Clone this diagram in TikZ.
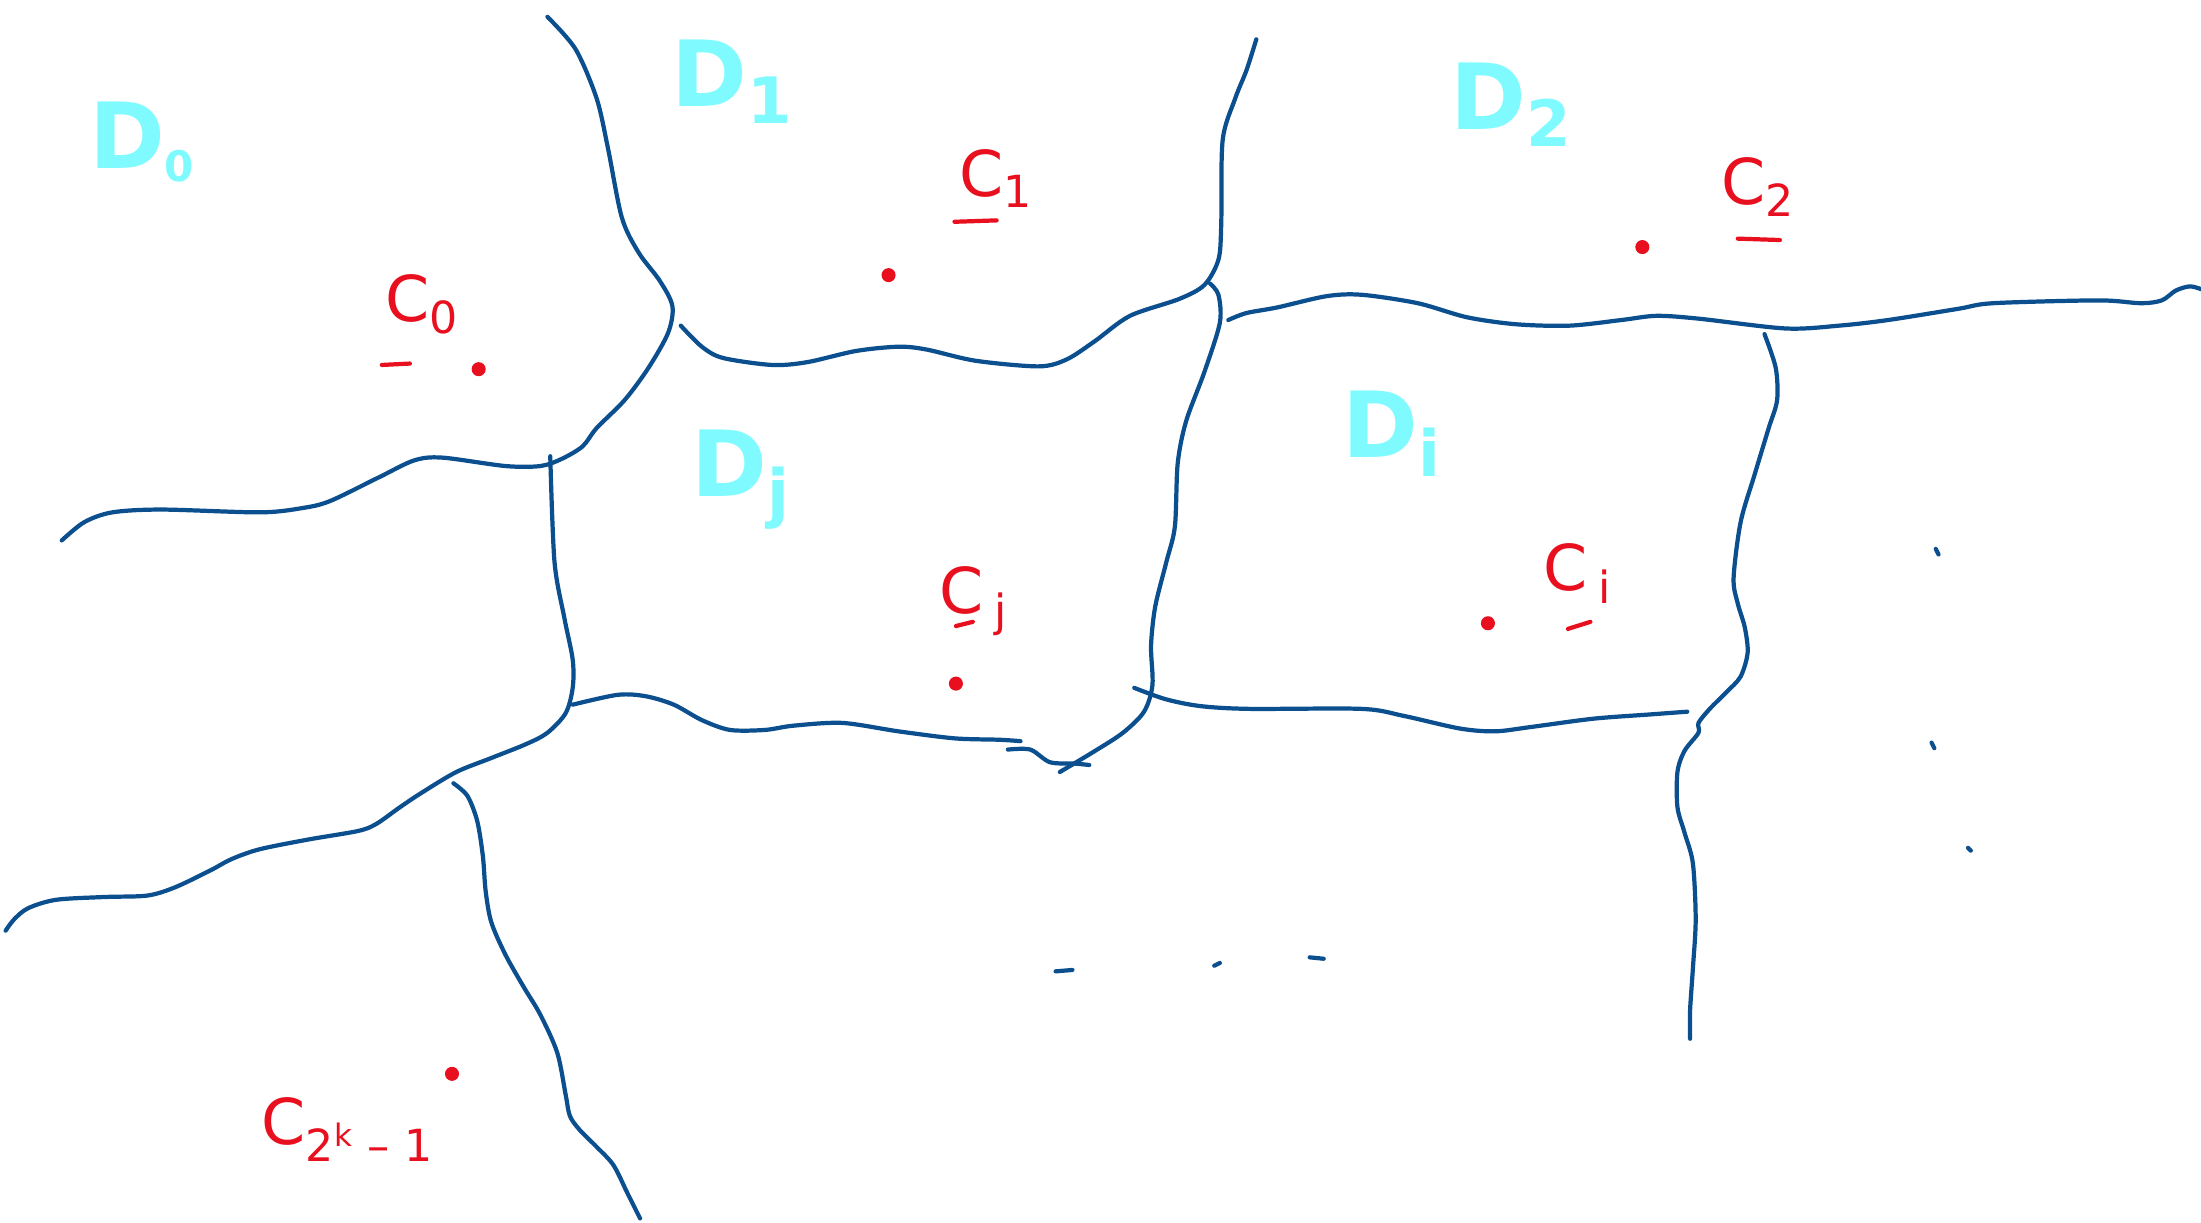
\documentclass[tikz,border=0pt]{standalone}
\usepackage{fontspec}
\setmainfont{DejaVu Sans}
\usepackage{tikz}
\usetikzlibrary{arrows.meta,calc,positioning}

\definecolor{cellblue}{HTML}{0B4F8F}
\definecolor{seedred}{HTML}{E8101F}
\definecolor{regioncyan}{HTML}{7FFBFF}

\tikzset{
  border/.style={cellblue, line width=1.2pt, line cap=round, line join=round},
  region/.style={regioncyan, anchor=base west, inner sep=0pt, font=\fontsize{26}{28}\selectfont\bfseries},
  seed/.style={seedred, anchor=base west, inner sep=0pt, font=\fontsize{18}{20}\selectfont},
  bar/.style={seedred, line width=1.2pt, line cap=round},
  dot/.style={seedred, fill, inner sep=0pt, minimum size=4pt, circle},
  speck/.style={cellblue, line width=1.2pt, line cap=round}
}

\begin{document}
\begin{tikzpicture}[x=0.014037cm, y=-0.014037cm]
\useasboundingbox (0,0) rectangle (1568,871);

% Bordi delle celle
\draw[border] plot[smooth, tension=0.5] coordinates {(390,12) (410,35) (425,70) (433,105) (443,155) (455,180) (470,200) (479,218) (476,237) (462,262) (445,285) (425,305) (415,318) (400,327) (385,332) (360,332) (315,326) (295,328) (270,340) (235,357) (215,362) (185,365) (115,363) (80,365) (60,372) (44,385)};
\draw[border] plot[smooth, tension=0.5] coordinates {(485,232) (500,247) (515,255) (550,260) (575,258) (610,250) (640,247) (660,249) (695,257) (740,261) (760,256) (780,243) (805,225) (840,213) (858,203) (868,185) (870,160) (871,100) (880,70) (888,50) (895,28)};
\draw[border] plot[smooth, tension=0.5] coordinates {(862,202) (868,210) (869,230) (858,265) (845,300) (839,330) (837,375) (831,400) (823,432) (820,460) (821,488) (815,507) (800,522) (780,535) (755,550)};
\draw[border] plot[smooth, tension=0.5] coordinates {(408,502) (440,495) (460,496) (480,502) (500,513) (520,520) (545,520) (565,517) (600,515) (640,521) (680,526) (712,527) (727,528)};
\draw[border] plot[smooth, tension=0.5] coordinates {(718,534) (734,534) (748,543) (766,544) (776,545)};
\draw[border] plot[smooth, tension=0.5] coordinates {(392,325) (395,400) (402,440) (408,470) (408,490) (403,508) (390,522) (375,530) (350,540) (325,550) (300,565) (285,575) (268,587) (255,592) (220,598) (185,605) (165,612) (150,620) (125,632) (105,638) (75,639) (40,641) (20,647) (10,655) (4,663)};
\draw[border] plot[smooth, tension=0.5] coordinates {(323,558) (333,567) (340,585) (344,610) (346,635) (350,657) (360,680) (373,703) (385,723) (397,750) (403,780) (406,795) (413,805) (425,817) (437,830) (447,850) (456,868)};
\draw[border] plot[smooth, tension=0.5] coordinates {(808,490) (830,498) (855,503) (890,505) (970,505) (1000,510) (1040,519) (1065,521) (1090,518) (1135,512) (1175,509) (1202,507)};
\draw[border] plot[smooth, tension=0.5] coordinates {(875,228) (888,223) (910,219) (945,211) (970,210) (1010,216) (1045,226) (1080,231) (1118,232) (1155,228) (1180,225) (1210,227) (1272,234) (1310,232) (1345,228) (1395,220) (1420,216) (1495,214) (1525,216) (1540,214) (1550,207) (1560,204) (1568,206)};
\draw[border] plot[smooth, tension=0.5] coordinates {(1257,238) (1265,262) (1266,285) (1260,305) (1250,338) (1240,372) (1235,412) (1238,430) (1243,447) (1245,465) (1240,482) (1230,493) (1218,505) (1210,515) (1210,522) (1200,535) (1195,550) (1195,575) (1200,593) (1206,615) (1208,655) (1206,690) (1204,720) (1204,740)};

% Segni sparsi
\draw[speck] (1379,391) -- (1381,395);
\draw[speck] (1376,529) -- (1378,533);
\draw[speck] (1402,604) -- (1404,606);
\draw[speck] (752,692) -- (764,691);
\draw[speck] (865,688) -- (869,686);
\draw[speck] (933,682) -- (943,683);

% Regioni
\node[region] (d0) at (63,120) {D\textsubscript{\fontsize{12}{12}\selectfont 0}};
\node[region] (d1) at (478,76) {D\textsubscript{1}};
\node[region] (d2) at (1033,92) {D\textsubscript{2}};
\node[region] (dj) at (492,354) {D\textsubscript{j}};
\node[region] (di) at (956,326) {D\textsubscript{i}};

% Semi
\node[seed] (c0) at (274,229) {C\textsubscript{0}};
\draw[bar] (272,260) -- (292,259);
\node[dot] (p0) at (341,263) {};

\node[seed] (c1) at (683,140) {C\textsubscript{1}};
\draw[bar] (680,158) -- (710,157);
\node[dot] (p1) at (633,196) {};

\node[seed] (c2) at (1226,146) {C\textsubscript{2}};
\draw[bar] (1238,170) -- (1268,171);
\node[dot] (p2) at (1170,176) {};

\node[seed] (cj) at (669,437) {C\,\textsubscript{j}};
\draw[bar] (681,446) -- (693,443);
\node[dot] (pj) at (681,487) {};

\node[seed] (ci) at (1099,421) {C\,\textsubscript{i}};
\draw[bar] (1117,448) -- (1133,443);
\node[dot] (pi) at (1060,444) {};

\node[seed] (ck) at (186,815) {C\textsubscript{2\textsuperscript{k} -- 1}};
\node[dot] (pk) at (322,765) {};

\end{tikzpicture}
\end{document}
